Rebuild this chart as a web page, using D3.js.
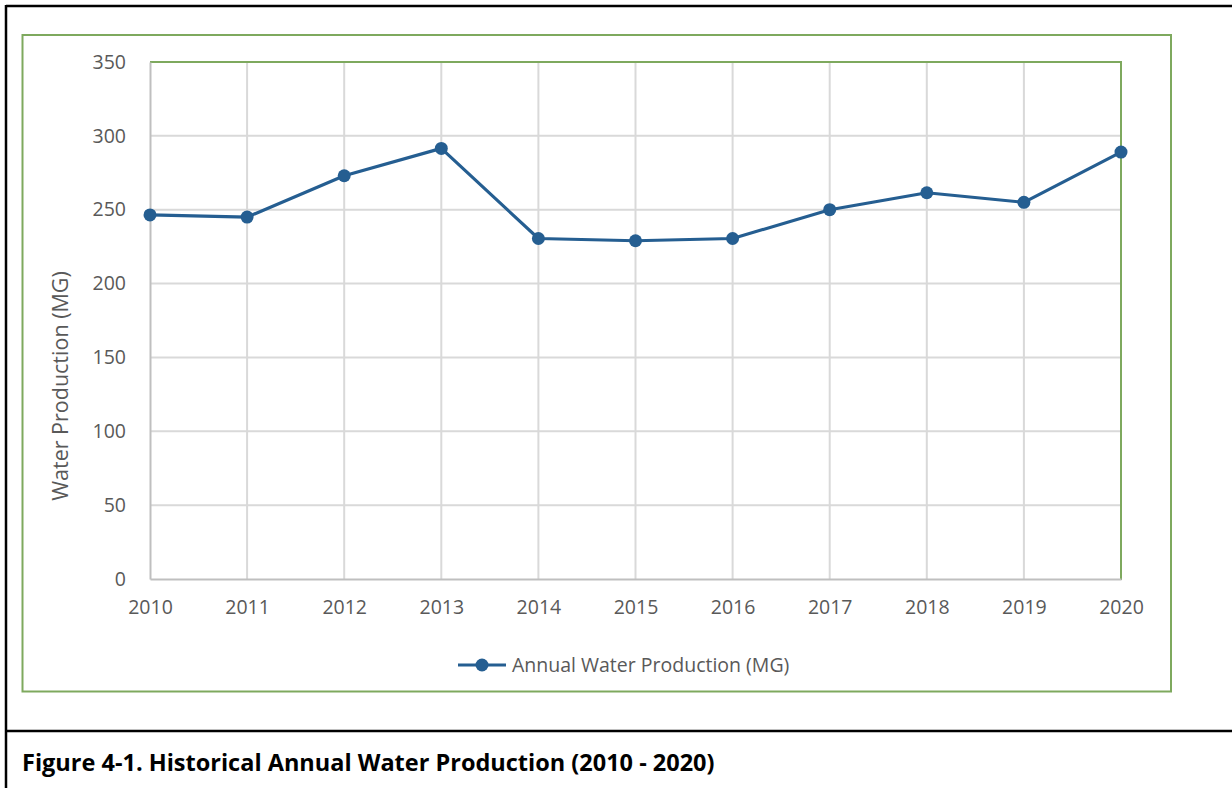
<!DOCTYPE html>
<html><head><meta charset="utf-8">
<script src="https://cdn.jsdelivr.net/npm/d3@7/dist/d3.min.js"></script>
<style>body{margin:0;background:#fff;} svg{display:block;}</style>
</head><body>
<svg id="chart" width="1232" height="788"></svg>
<script>
const years = [2010, 2011, 2012, 2013, 2014, 2015, 2016, 2017, 2018, 2019, 2020];
const production = [246.5, 245, 273, 291.5, 230.5, 229, 230.5, 250, 261.5, 255, 289];
const yTicks = [0, 50, 100, 150, 200, 250, 300, 350];
const seriesName = "Annual Water Production (MG)";
const yTitle = "Water Production (MG)";
const caption = "Figure 4-1. Historical Annual Water Production (2010 - 2020)";

const svg = d3.select("#chart");
const font = "'Open Sans', 'Noto Sans', sans-serif";
const lineColor = "#255e91";
const green = "#7ea95e";

// outer frame
svg.append("line").attr("x1",6).attr("x2",1232).attr("y1",6).attr("y2",6).attr("stroke","#000").attr("stroke-width",2.5);
svg.append("line").attr("x1",6).attr("x2",6).attr("y1",5).attr("y2",788).attr("stroke","#000").attr("stroke-width",2.5);
svg.append("line").attr("x1",6).attr("x2",1232).attr("y1",731).attr("y2",731).attr("stroke","#000").attr("stroke-width",2.5);

// chart area border
svg.append("rect").attr("x",22.5).attr("y",35).attr("width",1148.5).attr("height",656.5)
  .attr("fill","none").attr("stroke",green).attr("stroke-width",2);

const x = d3.scalePoint().domain(years).range([150, 1121]);
const y = d3.scaleLinear().domain([0, 350]).range([579, 62]);

// gridlines
svg.append("g").selectAll("line").data(yTicks.slice(1)).join("line")
  .attr("x1",150).attr("x2",1121).attr("y1",d=>y(d)).attr("y2",d=>y(d))
  .attr("stroke","#d9d9d9").attr("stroke-width",2);
svg.append("g").selectAll("line").data(years.slice(1)).join("line")
  .attr("x1",d=>x(d)).attr("x2",d=>x(d)).attr("y1",62).attr("y2",579)
  .attr("stroke","#d9d9d9").attr("stroke-width",2);

// plot border (top/right green)
svg.append("line").attr("x1",150).attr("x2",1122).attr("y1",62).attr("y2",62).attr("stroke",green).attr("stroke-width",2);
svg.append("line").attr("x1",1121).attr("x2",1121).attr("y1",61).attr("y2",580).attr("stroke",green).attr("stroke-width",2);

// axes
const yAxis = svg.append("g").attr("transform","translate(150,0)")
  .call(d3.axisLeft(y).tickValues(yTicks).tickSize(0).tickPadding(24));
yAxis.select(".domain").attr("stroke","#bfbfbf").attr("stroke-width",2);
yAxis.selectAll("text").attr("font-family",font).attr("font-size",19.5).attr("fill","#595959");

const xAxis = svg.append("g").attr("transform","translate(0,579)")
  .call(d3.axisBottom(x).tickSize(0).tickPadding(21).tickFormat(d3.format("d")));
xAxis.select(".domain").attr("stroke","#bfbfbf").attr("stroke-width",2);
xAxis.selectAll("text").attr("font-family",font).attr("font-size",19.5).attr("fill","#595959");

// y title
svg.append("text").attr("transform","translate(68,386) rotate(-90)")
  .attr("text-anchor","middle").attr("font-family",font).attr("font-size",21.5).attr("fill","#595959")
  .text(yTitle);

// line
const data = years.map((yr,i)=>({yr, v: production[i]}));
svg.append("path").datum(data)
  .attr("d", d3.line().x(d=>x(d.yr)).y(d=>y(d.v)))
  .attr("fill","none").attr("stroke",lineColor).attr("stroke-width",3.2).attr("stroke-linejoin","round");
svg.append("g").selectAll("circle").data(data).join("circle")
  .attr("cx",d=>x(d.yr)).attr("cy",d=>y(d.v)).attr("r",6.5).attr("fill",lineColor);

// legend
const lg = svg.append("g").attr("transform","translate(458,665)");
lg.append("line").attr("x1",0).attr("x2",48).attr("stroke",lineColor).attr("stroke-width",3.2);
lg.append("circle").attr("cx",24).attr("r",6.5).attr("fill",lineColor);
lg.append("text").attr("x",54).attr("dy","0.35em").attr("font-family",font).attr("font-size",19.5).attr("fill","#595959").text(seriesName);

// caption
svg.append("text").attr("x",22).attr("y",771).attr("font-family",font).attr("font-weight","bold")
  .attr("font-size",23.5).attr("fill","#000").text(caption);
</script>
</body></html>
